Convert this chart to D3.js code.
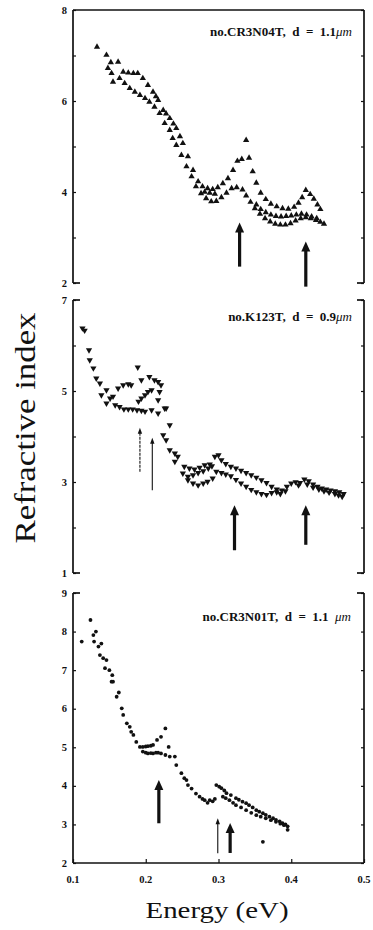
<!DOCTYPE html>
<html>
<head>
<meta charset="utf-8">
<script src="https://cdn.jsdelivr.net/npm/d3@7"></script>
<style>
  body { margin: 0; background: #fff; }
  svg { display: block; }
</style>
</head>
<body>
<div id="chart"></div>
<script>
// energy (eV), refractive index

// sample no.CR3N04T, upward triangles
var cr04Upper = [
  [0.133,7.19],[0.146,7.01],[0.152,6.85],[0.162,6.86],[0.169,6.64],[0.176,6.62],[0.183,6.61],[0.189,6.61],
  [0.196,6.5],[0.203,6.35],[0.21,6.2],[0.214,6.1],[0.217,6.02],[0.224,5.8],[0.228,5.72],[0.233,5.62],[0.238,5.5],
  [0.242,5.4],[0.247,5.22],[0.251,5.07],[0.258,4.78],[0.265,4.48],[0.272,4.23],[0.278,4.12],[0.285,4.08],
  [0.292,4.06],[0.299,4.1],[0.306,4.19],[0.313,4.3],[0.32,4.48],[0.326,4.68],[0.332,4.72],[0.338,5.14],
  [0.342,4.75],[0.347,4.45],[0.352,4.2],[0.358,3.98],[0.365,3.84],[0.372,3.74],[0.38,3.68],[0.388,3.64],
  [0.396,3.63],[0.404,3.67],[0.41,3.76],[0.415,3.88],[0.42,4.04],[0.426,3.95],[0.431,3.85],[0.436,3.72],[0.44,3.62]
];
var cr04Lower = [
  [0.148,6.72],[0.153,6.61],[0.155,6.42],[0.164,6.5],[0.171,6.39],[0.178,6.28],[0.185,6.2],[0.192,6.13],
  [0.199,6.06],[0.205,5.98],[0.212,5.87],[0.219,5.73],[0.226,5.51],[0.233,5.36],[0.237,5.18],[0.242,5.03],
  [0.249,4.81],[0.256,4.56],[0.263,4.34],[0.269,4.12],[0.276,3.97],[0.283,3.86],[0.29,3.79],[0.297,3.8],
  [0.304,3.88],[0.311,3.98],[0.318,4.08],[0.325,4.1],[0.333,4.05],[0.338,3.92],[0.344,3.78],[0.35,3.64],
  [0.357,3.52],[0.364,3.42],[0.371,3.35],[0.378,3.3],[0.385,3.28],[0.392,3.28],[0.399,3.31],[0.406,3.37],
  [0.413,3.42],[0.42,3.44],[0.427,3.42],[0.434,3.38],[0.44,3.34],[0.445,3.3]
];
var cr04Mid = [
  [0.281,4.0],[0.288,3.98],[0.295,3.96],[0.352,3.72],[0.358,3.62],[0.365,3.55],[0.372,3.5],[0.379,3.47],
  [0.386,3.46],[0.393,3.47],[0.4,3.48],[0.407,3.5],[0.414,3.52],[0.421,3.5],[0.428,3.46],[0.435,3.42]
];

// sample no.K123T, downward triangles
var k123Upper = [
  [0.113,6.38],[0.116,6.33],[0.122,5.9],[0.123,5.68],[0.128,5.5],[0.132,5.28],[0.137,5.17],[0.146,5.02],
  [0.155,4.88],[0.162,5.06],[0.169,5.13],[0.176,5.15],[0.18,5.13],[0.189,5.52],[0.194,5.24],[0.205,5.31],
  [0.212,5.24],[0.217,5.2],[0.221,5.13],[0.228,4.62],[0.233,4.25],[0.224,4.03],[0.228,3.92],[0.233,3.7],
  [0.24,3.63],[0.244,3.56],[0.253,3.34],[0.26,3.3],[0.267,3.28],[0.274,3.32],[0.281,3.37],[0.288,3.39],
  [0.295,3.56],[0.3,3.59],[0.304,3.48],[0.31,3.4],[0.317,3.34],[0.324,3.3],[0.331,3.25],[0.338,3.2],
  [0.345,3.15],[0.352,3.1],[0.359,3.04],[0.366,2.98],[0.373,2.9],[0.38,2.84]
];
var k123Mid = [
  [0.139,4.91],[0.146,4.73],[0.151,4.84],[0.19,4.77],[0.194,4.84],[0.199,4.91],[0.203,4.98],[0.208,5.02],
  [0.217,4.8],[0.219,4.98],[0.24,3.45],[0.251,3.19],[0.258,3.12],[0.265,3.15],[0.272,3.2],[0.279,3.24],
  [0.286,3.3],[0.291,3.35]
];
var k123Lower = [
  [0.158,4.69],[0.164,4.65],[0.17,4.6],[0.176,4.6],[0.182,4.6],[0.188,4.58],[0.194,4.57],[0.199,4.55],
  [0.208,4.58],[0.217,4.51],[0.226,4.62],[0.258,3.04],[0.265,2.97],[0.272,2.93],[0.279,2.97],[0.285,3.01],
  [0.292,3.08],[0.297,3.23],[0.304,3.2],[0.31,3.17],[0.317,3.13],[0.324,3.05],[0.331,2.97],[0.338,2.9],
  [0.345,2.83],[0.352,2.78],[0.359,2.74],[0.366,2.72],[0.373,2.76],[0.38,2.78],[0.387,2.82],[0.394,2.9],
  [0.4,2.97],[0.406,3.0],[0.412,2.98],[0.418,3.06],[0.424,3.02],[0.43,2.95],[0.436,2.9],[0.442,2.86],
  [0.448,2.84],[0.454,2.82],[0.46,2.8],[0.466,2.78],[0.472,2.74]
];
var k123Tail = [
  [0.385,2.74],[0.392,2.8],[0.41,2.93],[0.422,2.95],[0.43,2.88],[0.438,2.84],[0.445,2.8],[0.452,2.77],
  [0.46,2.74],[0.465,2.71],[0.47,2.68]
];

// sample no.CR3N01T, dots
var cr01Main = [
  [0.112,7.74],[0.124,8.3],[0.128,7.91],[0.1315,8.0],[0.129,7.74],[0.135,7.61],[0.139,7.69],[0.137,7.39],
  [0.1415,7.31],[0.146,7.26],[0.144,7.05],[0.15,7.0],[0.154,6.87],[0.155,6.7],[0.153,6.7],[0.163,6.42],
  [0.16,6.31],[0.167,6.01],[0.169,5.84],[0.174,5.62],[0.178,5.53],[0.18,5.4],[0.183,5.32],[0.187,5.14],
  [0.192,5.01],[0.196,5.01],[0.233,4.76],[0.24,4.76],[0.242,4.54],[0.249,4.33],[0.253,4.2],[0.256,4.15],
  [0.258,4.02],[0.263,3.93],[0.269,3.8],[0.274,3.72],[0.278,3.66],[0.281,3.63],[0.285,3.56],[0.288,3.63],
  [0.292,3.6],[0.295,3.66]
];
var cr01Bump = [
  [0.2,5.02],[0.203,5.03],[0.207,5.04],[0.21,5.06],[0.2155,5.19],[0.221,5.27],[0.227,5.49],[0.2315,5.01]
];
var cr01Flat = [
  [0.196,4.89],[0.2,4.86],[0.203,4.84],[0.207,4.85],[0.21,4.84],[0.214,4.86],[0.217,4.86],[0.221,4.84],[0.227,4.8]
];
var cr01Upper = [
  [0.297,4.02],[0.301,3.98],[0.304,3.94],[0.308,3.88],[0.311,3.81],[0.317,3.76],[0.324,3.68],[0.328,3.64],
  [0.333,3.59],[0.338,3.55],[0.342,3.5],[0.347,3.44],[0.352,3.37],[0.356,3.33],[0.361,3.29],[0.365,3.25],
  [0.37,3.2],[0.375,3.16],[0.379,3.12],[0.384,3.08],[0.388,3.03],[0.392,3.0],[0.395,2.95]
];
var cr01Lower = [
  [0.306,3.72],[0.31,3.68],[0.315,3.63],[0.32,3.56],[0.324,3.5],[0.331,3.44],[0.338,3.37],[0.345,3.3],
  [0.352,3.24],[0.358,3.2],[0.365,3.16],[0.372,3.11],[0.379,3.07],[0.385,3.02],[0.39,2.98],[0.395,2.86],
  [0.361,2.55]
];

// arrows: energy, tip value, tail value, heavy?, dashed?
var cr04Arrows = [[0.329,3.33,2.36,true,false],[0.42,2.91,1.92,true,false]];
var k123Arrows = [[0.192,4.19,3.22,false,true],[0.209,3.97,2.82,false,false],[0.322,2.49,1.5,true,false],[0.42,2.49,1.62,true,false]];
var cr01Arrows = [[0.218,4.15,3.03,true,false],[0.299,3.16,2.25,false,false],[0.316,3.04,2.26,true,false]];

var energyTicks = [0.1, 0.2, 0.3, 0.4, 0.5];
var energyLabels = ["0.1", "0.2", "0.3", "0.4", "0.5"];

var panels = [
  { label: ["no.CR3N04T,  d  =  1.1", "\u03bcm"], domain: [2, 8], ticks: [2,3,4,5,6,7,8], tickLabels: [2,4,6,8],
    series: [cr04Upper, cr04Lower, cr04Mid], marker: "up", arrows: cr04Arrows, frame: "openBottom",
    top: 10, bottom: 283, labelY: 36, labelX: 352 },
  { label: ["no.K123T,  d  =  0.9", "\u03bcm"], domain: [1, 7], ticks: [1,2,3,4,5,6,7], tickLabels: [1,3,5,7],
    series: [k123Upper, k123Mid, k123Lower, k123Tail], marker: "down", arrows: k123Arrows, frame: "bracket",
    top: 300, bottom: 573, labelY: 321, labelX: 352 },
  { label: ["no.CR3N01T,  d  =  1.1  ", "\u03bcm"], domain: [2, 9], ticks: [2,3,4,5,6,7,8,9], tickLabels: [2,3,4,5,6,7,8,9],
    series: [cr01Main, cr01Bump, cr01Flat, cr01Upper, cr01Lower], marker: "dot", arrows: cr01Arrows, frame: "openTop",
    top: 593, bottom: 863, labelY: 621, labelX: 351 }
];

var width = 373, height = 930;
var LEFT = 73, RIGHT = 364, STUB = 7;
var INK = "#111";

var svg = d3.select("#chart").append("svg").attr("width", width).attr("height", height);

var x = d3.scaleLinear().domain([0.1, 0.5]).range([LEFT, RIGHT]);

var tri = d3.symbol().type(d3.symbolTriangle).size(17);

panels.forEach(function (p) {
  var y = d3.scaleLinear().domain(p.domain).range([p.bottom, p.top]);
  var g = svg.append("g");

  // frame
  var frame = g.append("g").attr("fill", "none").attr("stroke", INK).attr("stroke-width", 1.7);
  frame.append("line").attr("x1", LEFT).attr("x2", LEFT).attr("y1", p.top).attr("y2", p.bottom);
  frame.append("line").attr("x1", RIGHT).attr("x2", RIGHT).attr("y1", p.top).attr("y2", p.bottom);
  var topFull = p.frame === "openBottom";
  var bottomFull = p.frame === "openTop";
  if (topFull) {
    frame.append("line").attr("x1", LEFT).attr("x2", RIGHT).attr("y1", p.top).attr("y2", p.top);
  } else {
    frame.append("line").attr("x1", LEFT).attr("x2", LEFT + STUB).attr("y1", p.top).attr("y2", p.top);
    frame.append("line").attr("x1", RIGHT - STUB).attr("x2", RIGHT).attr("y1", p.top).attr("y2", p.top);
  }
  if (bottomFull) {
    frame.append("line").attr("x1", LEFT).attr("x2", RIGHT).attr("y1", p.bottom).attr("y2", p.bottom);
  } else {
    frame.append("line").attr("x1", LEFT).attr("x2", LEFT + STUB).attr("y1", p.bottom).attr("y2", p.bottom);
    frame.append("line").attr("x1", RIGHT - STUB).attr("x2", RIGHT).attr("y1", p.bottom).attr("y2", p.bottom);
  }

  // inward y ticks, both sides
  var yAxisL = d3.axisRight(y).tickValues(p.ticks).tickSize(3).tickFormat("");
  var yAxisR = d3.axisLeft(y).tickValues(p.ticks).tickSize(3).tickFormat("");
  [[yAxisL, LEFT], [yAxisR, RIGHT]].forEach(function (a) {
    var ax = g.append("g").attr("transform", "translate(" + a[1] + ",0)").call(a[0]);
    ax.select(".domain").remove();
    ax.selectAll("line").attr("stroke", INK).attr("stroke-width", 1.2);
  });

  g.selectAll(".ylab").data(p.tickLabels).enter().append("text")
    .attr("x", LEFT - 6).attr("y", function (d) { return y(d) + 3.5; })
    .attr("text-anchor", "end")
    .style("font-family", "Liberation Serif").style("font-weight", 700).style("font-size", "10.5px")
    .attr("fill", INK)
    .text(function (d) { return d; });

  // markers
  var pts = d3.merge(p.series);
  var marks = g.append("g").attr("fill", INK);
  if (p.marker === "dot") {
    marks.selectAll("circle").data(pts).enter().append("circle")
      .attr("cx", function (d) { return x(d[0]); })
      .attr("cy", function (d) { return y(d[1]); })
      .attr("r", 1.9);
  } else {
    marks.selectAll("path").data(pts).enter().append("path")
      .attr("d", tri)
      .attr("transform", function (d) {
        return "translate(" + x(d[0]) + "," + y(d[1]) + ")" + (p.marker === "down" ? " rotate(180)" : "");
      });
  }

  // arrows
  p.arrows.forEach(function (a) {
    var ax = x(a[0]), tip = y(a[1]), tail = y(a[2]);
    var heavy = a[3];
    var hw = heavy ? 4.5 : 2.2, hl = heavy ? 10 : 6, sw = heavy ? 3.2 : 1.1;
    g.append("line").attr("x1", ax).attr("x2", ax).attr("y1", tip + hl - 1).attr("y2", tail)
      .attr("stroke", INK).attr("stroke-width", sw)
      .attr("stroke-dasharray", a[4] ? "3,1" : null);
    g.append("path")
      .attr("d", "M" + ax + "," + tip + "L" + (ax - hw) + "," + (tip + hl) + "L" + (ax + hw) + "," + (tip + hl) + "Z")
      .attr("fill", INK);
  });

  // sample label
  var t = g.append("text").attr("x", p.labelX).attr("y", p.labelY).attr("text-anchor", "end")
    .style("font-family", "Liberation Serif").style("font-size", "13px").style("font-weight", 700)
    .attr("fill", INK).attr("xml:space", "preserve");
  t.append("tspan").text(p.label[0]);
  t.append("tspan").style("font-style", "italic").style("font-weight", 400).text(p.label[1]);
});

// energy axis of the bottom panel
var last = panels[2];
var xAxis = d3.axisTop(x).tickValues(energyTicks).tickSize(4).tickFormat("");
var xa = svg.append("g").attr("transform", "translate(0," + last.bottom + ")").call(xAxis);
xa.select(".domain").remove();
xa.selectAll("line").attr("stroke", INK).attr("stroke-width", 1.2);

svg.selectAll(".xlab").data(energyTicks).enter().append("text")
  .attr("x", function (d) { return x(d); }).attr("y", last.bottom + 20)
  .attr("text-anchor", "middle")
  .style("font-family", "Liberation Serif").style("font-weight", 700).style("font-size", "10.5px")
  .attr("fill", INK)
  .text(function (d, i) { return energyLabels[i]; });

svg.append("text").attr("x", 217).attr("y", 918).attr("text-anchor", "middle")
  .style("font-family", "Liberation Serif").style("font-size", "23px").attr("fill", INK)
  .attr("textLength", 143).attr("lengthAdjust", "spacingAndGlyphs")
  .text("Energy (eV)");

svg.append("text").attr("transform", "translate(35,428) rotate(-90)").attr("text-anchor", "middle")
  .style("font-family", "Liberation Serif").style("font-size", "30px").attr("fill", INK)
  .attr("textLength", 231).attr("lengthAdjust", "spacingAndGlyphs")
  .text("Refractive index");
</script>
</body>
</html>
